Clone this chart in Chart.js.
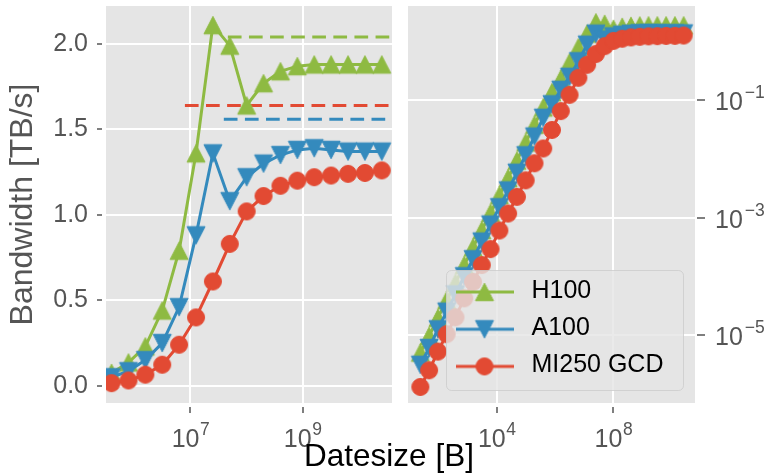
<!DOCTYPE html>
<html>
<head>
<meta charset="utf-8">
<title>Bandwidth</title>
<script src="https://cdn.jsdelivr.net/npm/chart.js@4.4.1/dist/chart.umd.min.js"></script>
<style>
  body { margin: 0; background: #fff; }
  #fig { position: relative; width: 773px; height: 474px; overflow: hidden; }
  #fig canvas { position: absolute; top: 0; }
  #lin { left: 0; }
  #log { left: 400px; }
  #xlabel { position: absolute; left: 0; top: 440px; width: 778px; text-align: center;
            font-family: "Liberation Sans", Arial, sans-serif; font-size: 31.5px; line-height: 31px; color: #000; }
</style>
</head>
<body>
<div id="fig">
  <canvas id="lin" width="400" height="474"></canvas>
  <canvas id="log" width="373" height="474"></canvas>
  <div id="xlabel">Datesize [B]</div>
</div>
<script>
// data sizes in bytes (24 B * 2^n, STREAM-like)
var sizesB = [24, 48, 96, 192, 384, 768, 1536, 3072, 6144, 12288, 24576, 49152, 98304,
  196608, 393216, 786432, 1572864, 3145728, 6291456, 12582912, 25165824, 50331648,
  100663296, 201326592, 402653184, 805306368, 1610612736, 3221225472, 6442450944,
  12884901888, 25769803776];

var seriesNames = ['H100', 'A100', 'MI250 GCD'];

// bandwidth in TB/s
var h100 = [5.0e-6, 9.6e-6, 1.95e-5, 3.9e-5, 7.7e-5, 1.55e-4, 3.1e-4, 6.1e-4, 1.2e-3,
  2.4e-3, 4.7e-3, 9.3e-3, 0.019, 0.038, 0.075, 0.136, 0.23, 0.44, 0.79, 1.36, 2.11,
  1.99, 1.64, 1.77, 1.84, 1.87, 1.88, 1.88, 1.88, 1.88, 1.88];
var a100 = [3.1e-6, 6.0e-6, 1.25e-5, 2.5e-5, 4.9e-5, 1.0e-4, 1.95e-4, 3.9e-4, 7.6e-4,
  1.5e-3, 2.9e-3, 5.8e-3, 0.0115, 0.024, 0.05, 0.085, 0.15, 0.25, 0.46, 0.88, 1.36,
  1.08, 1.22, 1.30, 1.35, 1.38, 1.39, 1.38, 1.37, 1.37, 1.37];
var mi250 = [1.3e-6, 2.5e-6, 5.2e-6, 1.03e-5, 2.0e-5, 4.2e-5, 8.0e-5, 1.55e-4, 2.9e-4,
  6.0e-4, 1.17e-3, 2.25e-3, 4.3e-3, 8.4e-3, 0.015, 0.031, 0.065, 0.123, 0.24, 0.40, 0.61,
  0.83, 1.02, 1.11, 1.17, 1.20, 1.22, 1.23, 1.24, 1.245, 1.26];

// theoretical peak (dashed), order H100, A100, MI250
var peakBW = [2.04, 1.56, 1.64];
var peakFrom = [4.65e7, 3.94e7, 7.98e6];

var leftXTicks = [1e7, 1e9];
var leftYTicks = [0, 0.5, 1.0, 1.5, 2.0];
var rightXTicks = [1e4, 1e8];
var rightYTicks = [1e-5, 1e-3, 1e-1];

var leftXRange = [3.13e5, 3.92e10];
var leftYRange = [-0.101, 2.222];
var rightXRange = [9.06, 6.31e10];
var rightYRange = [6.93e-7, 4.01];

var colors = ['#8EBA42', '#348ABD', '#E24A33'];
var shapes = ['up', 'down', 'circle'];

var FAM = '"Liberation Sans", Arial, sans-serif';
Chart.defaults.font.family = FAM;

function marker(shape, color, lineW) {
  var w = lineW || 22, h = 22;
  var cv = document.createElement('canvas');
  cv.width = w; cv.height = h;
  var g = cv.getContext('2d');
  var cx = w / 2, cy = h / 2;
  g.fillStyle = color;
  g.strokeStyle = color;
  if (lineW) {
    g.lineWidth = 3;
    g.beginPath(); g.moveTo(0, cy); g.lineTo(w, cy); g.stroke();
  }
  g.lineWidth = 1;
  g.beginPath();
  if (shape == 'up') {
    g.moveTo(cx, cy - 8.75); g.lineTo(cx + 9, cy + 8.75); g.lineTo(cx - 9, cy + 8.75); g.closePath();
  } else if (shape == 'down') {
    g.moveTo(cx, cy + 8.75); g.lineTo(cx + 9, cy - 8.75); g.lineTo(cx - 9, cy - 8.75); g.closePath();
  } else {
    g.arc(cx, cy, 8.5, 0, Math.PI * 2);
  }
  g.fill(); g.stroke();
  return cv;
}

var pointIcons = shapes.map(function(s, i){ return marker(s, colors[i]); });
var legendIcons = shapes.map(function(s, i){ return marker(s, colors[i], 58); });

function pts(ys) {
  return sizesB.map(function(s, i){ return {x: s, y: ys[i]}; });
}

function seriesSets() {
  return [h100, a100, mi250].map(function(ys, i) {
    return {
      label: seriesNames[i],
      data: pts(ys),
      borderColor: colors[i],
      backgroundColor: colors[i],
      borderWidth: 3,
      pointStyle: pointIcons[i],
      pointRadius: 9,
      pointHoverRadius: 9,
      pointBorderWidth: 0,
      tension: 0,
      clip: 0,
      order: 3 - i
    };
  });
}

var panelBg = {
  id: 'panelBg',
  beforeDraw: function(chart) {
    var a = chart.chartArea, c = chart.ctx;
    c.save();
    c.fillStyle = '#E5E5E5';
    c.fillRect(a.left, a.top, a.right - a.left, a.bottom - a.top);
    c.restore();
  }
};

// tick labels like 10^7 drawn with a raised, smaller exponent
function mathTicks(ids) {
  return {
    id: 'mathTicks',
    afterDraw: function(chart) {
      var c = chart.ctx;
      c.save();
      c.fillStyle = '#555555';
      c.textBaseline = 'alphabetic';
      c.textAlign = 'left';
      ids.forEach(function(id) {
        var s = chart.scales[id];
        s.ticks.forEach(function(t) {
          var e = Math.round(Math.log10(t.value));
          var ex = e < 0 ? '\u2212' + (-e) : String(e);
          c.font = '25px ' + FAM;
          var w1 = c.measureText('10').width;
          c.font = '17.5px ' + FAM;
          var w2 = c.measureText(ex).width;
          var p = s.getPixelForValue(t.value), x0, base;
          if (s.isHorizontal()) {
            x0 = p - (w1 + w2) / 2;
            base = s.top + 44;
          } else {
            x0 = s.left + 20;
            base = p + 10;
          }
          c.font = '25px ' + FAM;
          c.fillText('10', x0, base);
          c.font = '17.5px ' + FAM;
          c.fillText(ex, x0 + w1 + (e < 0 ? 2 : 0.5), base - 12);
        });
      });
      c.restore();
    }
  };
}

function roundBox(c, x, y, w, h, r) {
  c.beginPath();
  c.moveTo(x + r, y);
  c.arcTo(x + w, y, x + w, y + h, r);
  c.arcTo(x + w, y + h, x, y + h, r);
  c.arcTo(x, y + h, x, y, r);
  c.arcTo(x, y, x + w, y, r);
  c.closePath();
}

var boxLegend = {
  id: 'boxLegend',
  afterDatasetsDraw: function(chart) {
    var a = chart.chartArea, c = chart.ctx;
    var x = a.left + 38.5, y = a.top + 264.5, w = 237, h = 120;
    c.save();
    roundBox(c, x, y, w, h, 5);
    c.fillStyle = 'rgba(229,229,229,0.8)';
    c.fill();
    c.strokeStyle = 'rgba(204,204,204,0.8)';
    c.lineWidth = 1;
    c.stroke();
    c.font = '25px ' + FAM;
    c.fillStyle = '#000';
    c.textBaseline = 'middle';
    c.textAlign = 'left';
    for (var i = 0; i < seriesNames.length; i++) {
      var ey = y + 21.5 + i * 37.2;
      c.drawImage(legendIcons[i], x + 9, ey - 11);
      c.fillText(seriesNames[i], x + 85, ey - 1);
    }
    c.restore();
  }
};

var tickFont = {family: FAM, size: 25};

function gridOpts(len, dash) {
  return { color: '#ffffff', lineWidth: 2, tickLength: len, tickColor: '#555555',
           tickWidth: 1.5, tickBorderDash: dash };
}

// fixed axis box sizes, and no extra label padding pushed onto the chart area
function fixBox(w, h) {
  return function(s) {
    if (w) s.width = w;
    if (h) s.height = h;
    s.paddingTop = 0; s.paddingBottom = 0; s.paddingLeft = 0; s.paddingRight = 0;
  };
}

function logAxis(range, tickVals, boxW, boxH, dash) {
  return {
    type: 'logarithmic',
    min: range[0], max: range[1],
    afterBuildTicks: function(s){ s.ticks = tickVals.map(function(v){ return {value: v}; }); },
    afterFit: fixBox(boxW, boxH),
    grid: gridOpts(10, dash),
    border: {display: false},
    ticks: { font: tickFont, padding: 10, maxRotation: 0, autoSkip: false,
             callback: function(){ return ''; } }
  };
}

// left panel: linear y
var leftSets = seriesSets();
for (var k = 0; k < 3; k++) {
  leftSets.push({
    label: seriesNames[k] + ' peak',
    data: [{x: peakFrom[k], y: peakBW[k]}, {x: leftXRange[1], y: peakBW[k]}],
    borderColor: colors[k],
    borderWidth: 3,
    borderDash: [13.7, 7.4],
    pointRadius: 0,
    clip: 0,
    order: 5
  });
}

new Chart(document.getElementById('lin'), {
  type: 'line',
  data: { datasets: leftSets },
  options: {
    responsive: false,
    animation: false,
    devicePixelRatio: 1,
    events: [],
    layout: { autoPadding: false, padding: {left: 0, right: 8, top: 6, bottom: 0} },
    plugins: { legend: {display: false}, tooltip: {enabled: false} },
    scales: {
      x: logAxis(leftXRange, leftXTicks, 0, 71, [0, 4, 6, 30]),
      y: {
        type: 'linear',
        min: leftYRange[0], max: leftYRange[1],
        afterBuildTicks: function(s){ s.ticks = leftYTicks.map(function(v){ return {value: v}; }); },
        afterFit: fixBox(106, 0),
        grid: gridOpts(9, [5, 30]),
        border: {display: false},
        ticks: { color: '#555555', font: tickFont, padding: 9, autoSkip: false,
                 callback: function(v){ return Number(v).toFixed(1); } },
        title: { display: true, text: 'Bandwidth [TB/s]', color: '#555555',
                 font: {family: FAM, size: 32}, padding: {top: 4, bottom: 0} }
      }
    }
  },
  plugins: [panelBg, mathTicks(['x'])]
});

// right panel: log-log
var rightY = logAxis(rightYRange, rightYTicks, 78, 0, [0, 2, 8, 30]);
rightY.position = 'right';

new Chart(document.getElementById('log'), {
  type: 'line',
  data: { datasets: seriesSets() },
  options: {
    responsive: false,
    animation: false,
    devicePixelRatio: 1,
    events: [],
    layout: { autoPadding: false, padding: {left: 8, right: 0, top: 6, bottom: 0} },
    plugins: { legend: {display: false}, tooltip: {enabled: false} },
    scales: {
      x: logAxis(rightXRange, rightXTicks, 0, 71, [0, 4, 6, 30]),
      y: rightY
    }
  },
  plugins: [panelBg, boxLegend, mathTicks(['x', 'y'])]
});
</script>
</body>
</html>
